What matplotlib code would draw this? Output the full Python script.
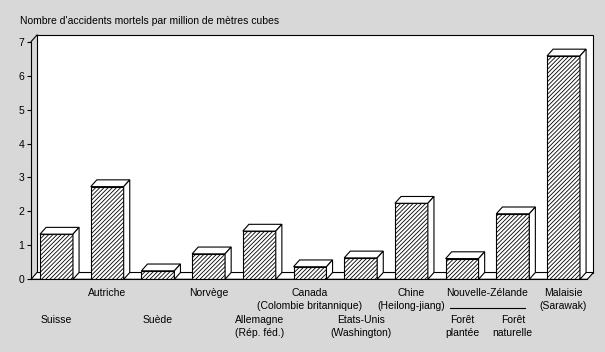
import numpy as np
import matplotlib
matplotlib.use("Agg")
import matplotlib.pyplot as plt
from matplotlib.patches import Polygon

plt.rcParams['font.family'] = ['Liberation Sans', 'DejaVu Sans']
plt.rcParams['hatch.linewidth'] = 0.6

# data
labels = ['Suisse', 'Autriche', 'Suède', 'Norvège', 'Allemagne\n(Rép. féd.)',
          'Canada\n(Colombie britannique)', 'Etats-Unis\n(Washington)',
          'Chine\n(Heilong-jiang)', 'Forêt\nplantée', 'Forêt\nnaturelle',
          'Malaisie\n(Sarawak)']
values = [1.33, 2.73, 0.25, 0.75, 1.42, 0.37, 0.63, 2.24, 0.61, 1.93, 6.58]
label_low = [True, False, True, False, True, False, True, False, True, True, False]
group_label = 'Nouvelle-Zélande'
group_members = [8, 9]
title = "Nombre d'accidents mortels par million de mètres cubes"
yticks = [0, 1, 2, 3, 4, 5, 6, 7]

bg = '#d8d8d8'
fs = 7.5
DX, DY = 0.12, 0.2   # depth of the 3d effect in data units
bw = 0.65
x = np.arange(len(values))
x0, x1 = -0.503, 10.47

fig = plt.figure(figsize=(6.05, 3.52), dpi=100, facecolor=bg)
ax = fig.add_axes([31 / 605, 1 - 279.3 / 352, (x1 - x0) * 50.7 / 605, 237.6 / 352])
ax.set_facecolor('none')
ax.set_xlim(x0, x1)
ax.set_ylim(0, 7)

# back wall and floor
wall = Polygon([(x0 + DX, DY), (x0 + DX, 7 + DY), (x1 + DX, 7 + DY), (x1 + DX, DY)],
               closed=True, facecolor='white', edgecolor='black', lw=0.8,
               clip_on=False, zorder=1)
ax.add_patch(wall)
floor = Polygon([(x0, 0), (x0 + DX, DY), (x1 + DX, DY), (x1, 0)], closed=True,
                facecolor='white', edgecolor='black', lw=0.8, clip_on=False, zorder=1.5)
ax.add_patch(floor)
ax.plot([x0, x0 + DX], [7, 7 + DY], color='black', lw=0.8, clip_on=False, zorder=2)

# bars
ax.bar(x, values, width=bw, color='white', edgecolor='black', hatch='////////',
       lw=0.8, zorder=3)
for xi, v in zip(x, values):
    l, r = xi - bw / 2, xi + bw / 2
    top = Polygon([(l, v), (l + DX, v + DY), (r + DX, v + DY), (r, v)], closed=True,
                  facecolor='white', edgecolor='black', lw=0.8, clip_on=False, zorder=3)
    side = Polygon([(r, 0), (r, v), (r + DX, v + DY), (r + DX, DY)], closed=True,
                   facecolor='white', edgecolor='black', lw=0.8, clip_on=False, zorder=3)
    ax.add_patch(top)
    ax.add_patch(side)

# axes
for s in ['top', 'right']:
    ax.spines[s].set_visible(False)
for s in ['left', 'bottom']:
    ax.spines[s].set_linewidth(0.8)
    ax.spines[s].set_zorder(4)
ax.set_xticks([])
ax.set_yticks(yticks)
ax.tick_params(axis='y', length=3, width=0.8, pad=2, labelsize=fs)

# category labels
for xi, lab, low in zip(x, labels, label_low):
    off = -36.0 if low else -8.5
    ax.annotate(lab, (xi, 0), xytext=(0, off), textcoords='offset pixels',
                ha='center', va='top', fontsize=fs, linespacing=1.35,
                annotation_clip=False)

gx = np.mean(group_members)
ax.annotate(group_label, (gx, 0), xytext=(0, -8.5), textcoords='offset pixels',
            ha='center', va='top', fontsize=fs, annotation_clip=False)
ax.plot([group_members[0] - 0.24, group_members[-1] + 0.24], [-0.121, -0.121],
        transform=ax.get_xaxis_transform(), color='black', lw=0.8, clip_on=False)

fig.text(20 / 605, 1 - 20.7 / 352, title, ha='left', va='center', fontsize=fs)

fig.savefig('out.png', dpi=100, facecolor=bg)
